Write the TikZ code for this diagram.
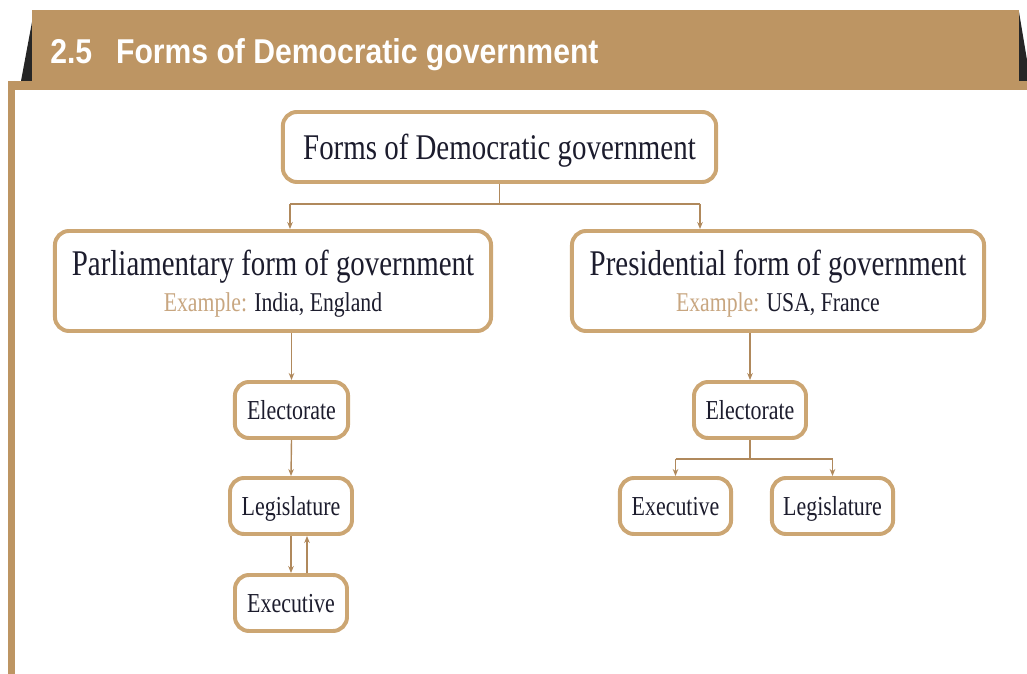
\documentclass[tikz,border=0pt]{standalone}
\usepackage{fontspec}
\setmainfont{Liberation Serif}[FakeStretch=0.8]
\newfontfamily\headfont{Liberation Sans}[FakeStretch=0.875]
\usetikzlibrary{arrows.meta,calc}
\definecolor{bandbrown}{RGB}{189,149,99}
\definecolor{boxbrown}{RGB}{204,166,115}
\definecolor{linkbrown}{RGB}{176,137,92}
\definecolor{extan}{RGB}{200,166,128}
\definecolor{ink}{RGB}{28,28,45}
\providecommand{\bigsize}{\fontsize{25.7pt}{26pt}\selectfont}
\providecommand{\smallsize}{\fontsize{19.5pt}{22pt}\selectfont}
\providecommand{\exsize}{\fontsize{19.3pt}{26pt}\selectfont}
\providecommand{\Ex}{{\color{extan}Example:}}

\begin{document}
\begin{tikzpicture}[x=0.025cm,y=-0.025cm,
    govbox/.style={draw=boxbrown,line width=2.8pt,rounded corners=10pt,fill=white,
        text=ink,align=center,inner sep=0pt,text depth=0pt},
    smallbox/.style={govbox,font=\smallsize,minimum height=1.4cm},
    link/.style={draw=linkbrown,line width=1pt},
    arr/.style={link,-{Stealth[length=5pt,width=4pt]}}]
    \useasboundingbox (0,0) rectangle (1027,674);
    % header band
    \fill[black!85] (32,22) -- (21,81) -- (32,81) -- cycle;
    \fill[black!85] (1019,12) -- (1027,60) -- (1027,81) -- (1019,81) -- cycle;
    \fill[bandbrown] (32,10) rectangle (1019,90);
    \fill[bandbrown] (8,81) rectangle (1027,90);
    \draw[bandbrown,line width=5pt] (11.5,81) -- (11.5,674);
    \node[anchor=base west,inner sep=0pt,text=white,font=\headfont\bfseries\fontsize{24.5pt}{26pt}\selectfont]
        (title) at (50,64) {2.5\hspace{17pt}Forms of Democratic government};

    \node[govbox,font=\bigsize,minimum width=10.83cm,minimum height=1.75cm] (forms) at (499.5,147)
        {Forms of Democratic government};
    \node[govbox,font=\bigsize,minimum width=10.9cm,minimum height=2.5cm] (parl) at (273,281)
        {Parliamentary form of government\\{\exsize\Ex{} India, England}};
    \node[govbox,font=\bigsize,minimum width=10.3cm,minimum height=2.5cm] (pres) at (778,281)
        {Presidential form of government\\{\exsize\Ex{} USA, France}};

    \node[smallbox,minimum width=2.83cm] (lelect) at (291.5,410) {Electorate};
    \node[smallbox,minimum width=3.05cm] (lleg) at (291,506) {Legislature};
    \node[smallbox,minimum width=2.8cm] (lexec) at (291,603) {Executive};
    \node[smallbox,minimum width=2.8cm] (relect) at (750,410) {Electorate};
    \node[smallbox,minimum width=2.78cm] (rexec) at (675.5,506) {Executive};
    \node[smallbox,minimum width=3.03cm] (rleg) at (832.5,506) {Legislature};

    \coordinate (lsplit) at (290,204);
    \coordinate (rsplit) at (700,204);
    \coordinate (esplit) at (750,459);
    \draw[link] (forms.south) -- (forms.south |- lsplit);
    \draw[link] (lsplit) -- (rsplit);
    \draw[arr] (lsplit) -- (lsplit |- parl.north);
    \draw[arr] (rsplit) -- (rsplit |- pres.north);

    \draw[arr] (lelect.north |- parl.south) -- (lelect.north);
    \draw[arr] (lelect.south) -- (lleg.north);
    \draw[arr] (lleg.south) -- (lexec.north);
    \draw[arr] ([xshift=0.4cm]lexec.north) -- ([xshift=0.4cm]lleg.south);

    \draw[arr] (relect.north |- pres.south) -- (relect.north);
    \draw[link] (relect.south) -- (esplit);
    \draw[link] (esplit -| rexec) -- (esplit -| rleg);
    \draw[arr] (esplit -| rexec) -- (rexec.north);
    \draw[arr] (esplit -| rleg) -- (rleg.north);
\end{tikzpicture}
\end{document}
